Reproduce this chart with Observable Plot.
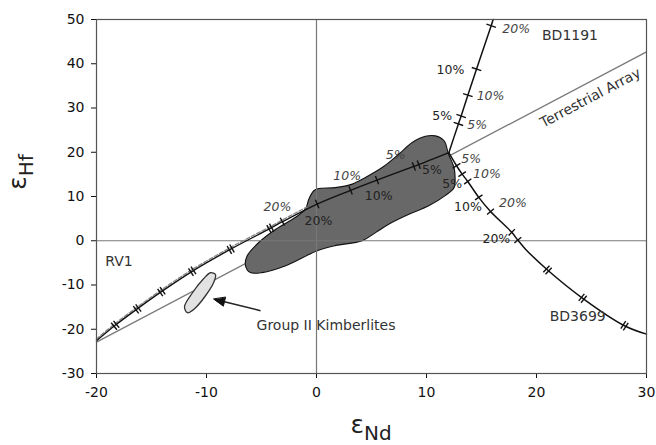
<!DOCTYPE html>
<html>
<head>
<meta charset="utf-8">
<script src="https://cdn.jsdelivr.net/npm/d3@7"></script>
<script src="https://cdn.jsdelivr.net/npm/@observablehq/plot@0.6"></script>
<style>
  html, body { margin: 0; padding: 0; background: #fff; }
  #chart { width: 656px; height: 445px; }
</style>
</head>
<body>
<div id="chart"></div>
<script>
// ---------- data ----------
const xTicks = [-20, -10, 0, 10, 20, 30];
const yTicks = [-30, -20, -10, 0, 10, 20, 30, 40, 50];

// Terrestrial array end points
const taX = [-20, 30];
const taY = [-22.9, 42.7];

// Mixing curves
const rv1X = [-20, -18.3, -16.3, -14.1, -11.3, -7.8, -4.2, -3.1, 0.06, 3.1, 5.5, 8.85, 9.3, 12.03];
const rv1Y = [-22.6, -19.1, -15.4, -11.5, -6.9, -1.9, 2.8, 4.3, 8.3, 11.4, 13.7, 16.8, 17.2, 19.9];
const rv1GrayX = [-20, -18.3, -16.3, -14.1, -11.3, -7.8, -4.2, -3.1, -0.9];
const rv1GrayY = [-22.2, -18.7, -15.0, -11.1, -6.5, -1.5, 3.2, 4.7, 7.6];
const bd1191X = [12.03, 12.9, 13.15, 13.76, 14.55, 15.88, 16.06];
const bd1191Y = [19.9, 26.4, 28.2, 32.9, 38.8, 48.6, 50];
const bd3699X = [12.03, 12.73, 13.24, 13.75, 14.75, 15.82, 17.75, 18.3, 19.0, 21.0, 24.2, 28.0, 30.0];
const bd3699Y = [19.9, 16.95, 15.07, 13.4, 9.8, 6.6, 1.9, 0.15, -1.9, -6.6, -13.0, -19.2, -21.1];

// Tick marks on the curves
const rv1DoubleTicksX = [-18.3, -16.3, -14.1, -11.3, -7.8, -4.2];
const rv1DoubleTicksY = [-19.1, -15.4, -11.5, -6.9, -1.9, 2.8];
const rv1TicksX = [-3.1, 0.06, 3.1, 5.5, 8.85, 9.3];
const rv1TicksY = [4.3, 8.3, 11.4, 13.7, 16.8, 17.2];
const bd1191TicksX = [12.9, 13.15, 13.76, 14.55, 15.88];
const bd1191TicksY = [26.4, 28.2, 32.9, 38.8, 48.6];
const bd3699TicksX = [12.73, 13.24, 13.75, 14.75, 15.82, 17.75, 18.3];
const bd3699TicksY = [16.95, 15.07, 13.4, 9.8, 6.6, 1.9, 0.15];
const bd3699DoubleTicksX = [21.0, 24.2, 28.0];
const bd3699DoubleTicksY = [-6.6, -13.0, -19.2];

// Field of samples (dark polygon)
const polyX = [-6.45, -6.0, -4.94, -2.8, 0.06, 1.7, 4.15, 5.4, 6.6, 8.4, 10.2, 11.7, 12.5, 12.6, 12.5, 12.0, 11.6, 10.8, 9.9, 8.7, 7.5, 6.0, 4.45, 3.25, 1.7, 0.2, -0.25, -0.7, -1.0, -1.9, -3.7, -5.25, -6.3];
const polyY = [-5.65, -7.2, -7.2, -5.65, -2.26, -1.1, 0, 1.9, 3.8, 6.0, 7.9, 10.2, 12.0, 13.9, 16.6, 19.6, 22.6, 23.7, 23.6, 22.2, 19.6, 16.6, 14.3, 12.8, 12.0, 11.8, 11.3, 9.4, 7.2, 5.3, 2.6, -0.4, -3.4];

// Group II kimberlites field
const kimbX = [-9.18, -9.36, -10.09, -11.09, -11.73, -12.0, -11.27, -10.27, -9.64];
const kimbY = [-7.68, -9.49, -12.43, -15.37, -16.27, -14.92, -11.75, -8.59, -7.23];

// Arrow (tail -> head)
const arrowX = [-5.09, -9.34];
const arrowY = [-15.8, -13.2];

// Percentage labels
const pctUpText = ["20%", "10%", "5%", "10%", "5%", "5%", "10%", "20%"];
const pctUpX = [0.18, 5.66, 10.5, 12.18, 11.43, 12.34, 13.77, 16.35];
const pctUpY = [4.52, 10.17, 15.9, 38.6, 28.2, 12.81, 7.53, 0.38];
const pctItText = ["20%", "10%", "5%", "20%", "10%", "5%", "5%", "10%", "20%"];
const pctItX = [-3.55, 2.79, 7.2, 18.16, 15.82, 14.61, 14.07, 15.5, 17.86];
const pctItY = [7.68, 14.69, 19.3, 47.8, 32.8, 26.1, 18.46, 15.07, 8.43];

// Names
const nameText = ["RV1", "BD1191", "BD3699", "Group II Kimberlites"];
const nameX = [-19.2, 20.5, 21.2, -5.45];
const nameY = [-4.7, 46.3, -17.2, -19.2];
const taLabel = "Terrestrial Array";
const taLabelX = 24.9;
const taLabelY = 32.3;

// ---------- layout ----------
const W = 656, H = 445, mL = 96, mR = 10, mT = 19, mB = 72;
const xDom = [-20, 30], yDom = [-30, 50];
const kx = (W - mL - mR) / (xDom[1] - xDom[0]);
const ky = (H - mT - mB) / (yDom[1] - yDom[0]);

const pts = (xs, ys) => xs.map((x, i) => ({x, y: ys[i]}));

// tick segments perpendicular to a curve (computed in pixel space)
function tickSegs(cx, cy, tx, ty, len, gap) {
  const out = [];
  tx.forEach((x0, k) => {
    const y0 = ty[k];
    let best = null, bd = Infinity;
    for (let i = 0; i < cx.length - 1; i++) {
      const ax = cx[i] * kx, ay = cy[i] * ky, bx = cx[i + 1] * kx, by = cy[i + 1] * ky;
      const px = x0 * kx, py = y0 * ky;
      const vx = bx - ax, vy = by - ay;
      const t = Math.max(0, Math.min(1, ((px - ax) * vx + (py - ay) * vy) / (vx * vx + vy * vy)));
      const d = Math.hypot(ax + t * vx - px, ay + t * vy - py);
      if (d < bd) { bd = d; best = [vx, vy]; }
    }
    const n = Math.hypot(best[0], best[1]);
    const ux = best[0] / n, uy = best[1] / n;
    const nx = -uy, ny = ux;
    const offs = gap ? [-gap / 2, gap / 2] : [0];
    offs.forEach(o => {
      const cxp = x0 * kx + ux * o, cyp = y0 * ky + uy * o;
      out.push({
        x1: (cxp + nx * len / 2) / kx, y1: (cyp + ny * len / 2) / ky,
        x2: (cxp - nx * len / 2) / kx, y2: (cyp - ny * len / 2) / ky
      });
    });
  });
  return out;
}

const ticks = [
  ...tickSegs(rv1X, rv1Y, rv1DoubleTicksX, rv1DoubleTicksY, 9, 3),
  ...tickSegs(rv1X, rv1Y, rv1TicksX, rv1TicksY, 9, 0),
  ...tickSegs(bd1191X, bd1191Y, bd1191TicksX, bd1191TicksY, 10, 0),
  ...tickSegs(bd3699X, bd3699Y, bd3699TicksX, bd3699TicksY, 9, 0),
  ...tickSegs(bd3699X, bd3699Y, bd3699DoubleTicksX, bd3699DoubleTicksY, 9, 3)
];

// arrow head triangle (pixel space geometry)
function arrowHead() {
  const ax = arrowX[0] * kx, ay = arrowY[0] * ky, bx = arrowX[1] * kx, by = arrowY[1] * ky;
  const n = Math.hypot(bx - ax, by - ay);
  const ux = (bx - ax) / n, uy = (by - ay) / n;
  const L = 11, Wd = 4.5;
  const base = [bx - ux * L, by - uy * L];
  return [
    {x: bx / kx, y: by / ky},
    {x: (base[0] - uy * Wd) / kx, y: (base[1] + ux * Wd) / ky},
    {x: (base[0] + uy * Wd) / kx, y: (base[1] - ux * Wd) / ky}
  ];
}
const head = arrowHead();
const shaftEnd = {x: (head[1].x + head[2].x) / 2, y: (head[1].y + head[2].y) / 2};

const taAngle = -Math.atan2((taY[1] - taY[0]) * ky, (taX[1] - taX[0]) * kx) * 180 / Math.PI;

const font = "DejaVu Sans, Verdana, sans-serif";

const chart = Plot.plot({
  width: W, height: H,
  marginLeft: mL, marginRight: mR, marginTop: mT, marginBottom: mB,
  style: {fontFamily: font, fontSize: "14px", color: "#111", background: "#fff"},
  x: {domain: xDom, ticks: xTicks, tickSize: 5, tickPadding: 9, label: null, tickFormat: d => String(d)},
  y: {domain: yDom, ticks: yTicks, tickSize: 5, tickPadding: 7, label: null, tickFormat: d => String(d)},
  marks: [
    Plot.line(pts(taX, taY), {x: "x", y: "y", stroke: "#7a7a7a", strokeWidth: 1.3}),
    Plot.line(pts(polyX, polyY), {x: "x", y: "y", curve: "catmull-rom-closed", fill: "#686868", stroke: "#111", strokeWidth: 1.1}),
    Plot.ruleX([0], {stroke: "#777", strokeWidth: 1.2}),
    Plot.ruleY([0], {stroke: "#777", strokeWidth: 1.2}),
    Plot.line(pts(kimbX, kimbY), {x: "x", y: "y", curve: "catmull-rom-closed", fill: "#e2e2e2", stroke: "#333", strokeWidth: 1.3}),
    Plot.line(pts(rv1GrayX, rv1GrayY), {x: "x", y: "y", curve: "catmull-rom", stroke: "#888", strokeWidth: 1.3, strokeDasharray: "4,2"}),
    Plot.line(pts(rv1X, rv1Y), {x: "x", y: "y", curve: "catmull-rom", stroke: "#111", strokeWidth: 1.4}),
    Plot.line(pts(bd1191X, bd1191Y), {x: "x", y: "y", curve: "catmull-rom", stroke: "#111", strokeWidth: 1.5}),
    Plot.line(pts(bd3699X, bd3699Y), {x: "x", y: "y", curve: "catmull-rom", stroke: "#111", strokeWidth: 1.5}),
    Plot.link(ticks, {x1: "x1", y1: "y1", x2: "x2", y2: "y2", stroke: "#111", strokeWidth: 1.4}),
    Plot.link([{x1: arrowX[0], y1: arrowY[0], x2: shaftEnd.x, y2: shaftEnd.y}], {x1: "x1", y1: "y1", x2: "x2", y2: "y2", stroke: "#222", strokeWidth: 1.5}),
    Plot.line(head, {x: "x", y: "y", curve: "linear-closed", fill: "#111", stroke: "#111", strokeWidth: 1}),
    Plot.text(pctUpText.map((t, i) => ({t, x: pctUpX[i], y: pctUpY[i]})), {x: "x", y: "y", text: "t", fontSize: 12.5, fill: "#222"}),
    Plot.text(pctItText.map((t, i) => ({t, x: pctItX[i], y: pctItY[i]})), {x: "x", y: "y", text: "t", fontSize: 12.5, fontStyle: "italic", fill: "#444"}),
    Plot.text(nameText.map((t, i) => ({t, x: nameX[i], y: nameY[i]})), {x: "x", y: "y", text: "t", fontSize: 14, textAnchor: "start", fill: "#333"}),
    Plot.text([{t: taLabel, x: taLabelX, y: taLabelY}], {x: "x", y: "y", text: "t", fontSize: 14, rotate: taAngle, fill: "#333"}),
    Plot.frame({stroke: "#555", strokeWidth: 1.2})
  ]
});

document.getElementById("chart").appendChild(chart);

const svg = d3.select(chart);

// axis titles with subscripts
const xl = svg.append("text")
  .attr("x", (mL + W - mR) / 2).attr("y", 433)
  .attr("text-anchor", "middle")
  .style("font-family", font).style("fill", "#222");
xl.append("tspan").text("ε").style("font-size", "25px");
xl.append("tspan").text("Nd").style("font-size", "20px").attr("dy", 7);

const yl = svg.append("text")
  .attr("transform", "translate(26,172) rotate(-90)")
  .attr("text-anchor", "middle")
  .style("font-family", font).style("fill", "#222");
yl.append("tspan").text("ε").style("font-size", "25px");
yl.append("tspan").text("Hf").style("font-size", "20px").attr("dy", 7);
</script>
</body>
</html>
